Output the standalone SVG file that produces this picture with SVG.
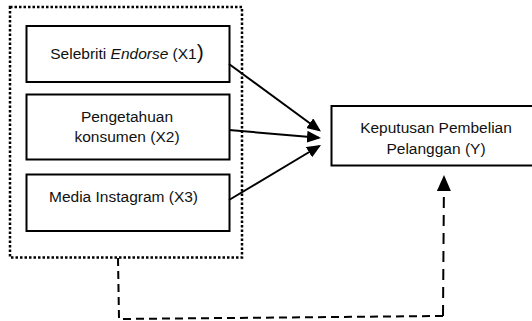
<svg xmlns="http://www.w3.org/2000/svg" width="532" height="321" viewBox="0 0 532 321">
  <style>
    .box { fill: #ffffff; stroke: #000000; stroke-width: 2; }
    .group { fill: none; stroke: #000000; stroke-width: 2.5; stroke-dasharray: 2.5 2; }
    .lbl { font-family: "Liberation Sans", Arial, sans-serif; font-size: 15.5px; fill: #111111; }
    .edge { fill: none; stroke: #000000; stroke-width: 2; }
    .dash { fill: none; stroke: #000000; stroke-width: 2; stroke-dasharray: 8 5; }
    .dash2 { fill: none; stroke: #000000; stroke-width: 2; stroke-dasharray: 11 7; }
  </style>
  <defs>
    <marker id="arr" viewBox="0 0 14 12" refX="12" refY="6" markerWidth="14" markerHeight="12" markerUnits="userSpaceOnUse" orient="auto">
      <path d="M0,0 L14,6 L0,12 z" fill="#000000"/>
    </marker>
    <marker id="arrBig" viewBox="0 0 16 14" refX="14" refY="7" markerWidth="16" markerHeight="14" markerUnits="userSpaceOnUse" orient="auto">
      <path d="M0,0 L16,7 L0,14 z" fill="#000000"/>
    </marker>
  </defs>
  <rect width="532" height="321" fill="#ffffff"/>

  <g id="group-x">
    <rect class="group" x="10" y="7" width="232" height="250.5"/>
  </g>

  <g id="node-x1">
    <rect class="box" x="26.5" y="26" width="203" height="56"/>
    <text class="lbl" x="127" y="58.5" text-anchor="middle">Selebriti <tspan font-style="italic">Endorse</tspan> (X1<tspan font-size="21px">)</tspan></text>
  </g>

  <g id="node-x2">
    <rect class="box" x="26.5" y="94.5" width="203" height="65"/>
    <text class="lbl" x="127" y="122" text-anchor="middle">Pengetahuan</text>
    <text class="lbl" x="127" y="141.7" text-anchor="middle">konsumen (X2)</text>
  </g>

  <g id="node-x3">
    <rect class="box" x="26.5" y="174.5" width="203" height="56.5"/>
    <text class="lbl" x="49" y="201.5">Media Instagram (X3)</text>
  </g>

  <g id="node-y">
    <rect class="box" x="331.5" y="106" width="215" height="59.5"/>
    <text class="lbl" x="436" y="133" text-anchor="middle">Keputusan Pembelian</text>
    <text class="lbl" x="436" y="154" text-anchor="middle">Pelanggan (Y)</text>
  </g>

  <g id="connectors">
    <line class="edge" x1="229" y1="64" x2="319.4" y2="130.3" marker-end="url(#arr)"/>
    <line class="edge" x1="229" y1="130" x2="319" y2="137.8" marker-end="url(#arr)"/>
    <line class="edge" x1="229" y1="200" x2="319.3" y2="146" marker-end="url(#arr)"/>
    <polyline class="dash" points="118,258 119,319 443,316"/>
    <polyline class="dash2" points="443,316 444,177" marker-end="url(#arrBig)"/>
  </g>
</svg>
